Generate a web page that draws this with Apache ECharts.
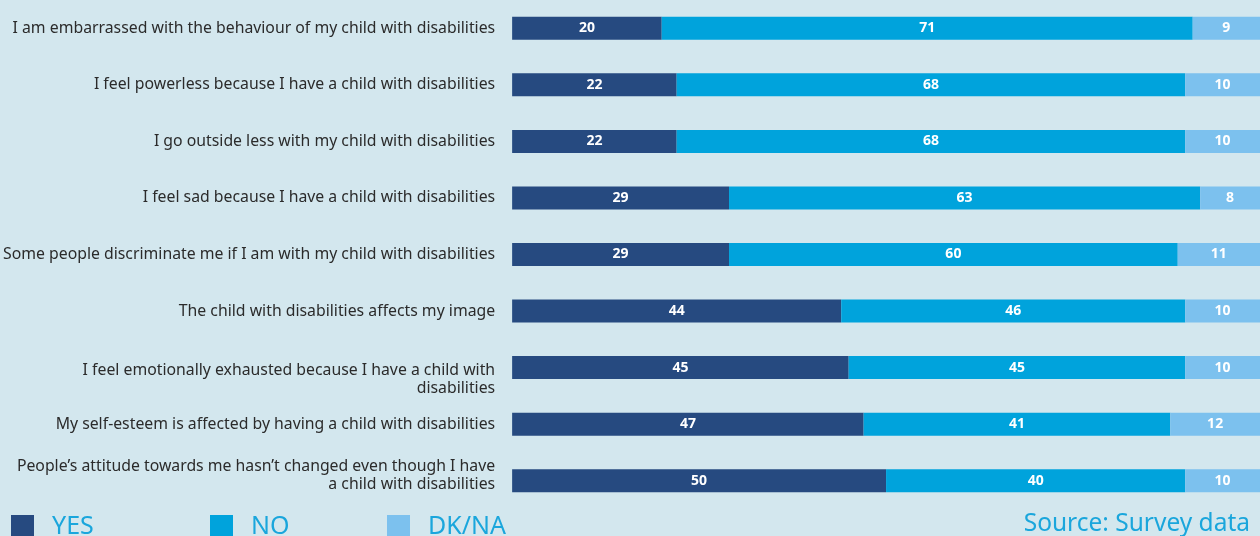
<!DOCTYPE html>
<html><head><meta charset="utf-8">
<script src="https://cdn.jsdelivr.net/npm/echarts@6/dist/echarts.min.js"></script>
<style>html,body{margin:0;padding:0;background:#d3e7ee}#c{width:1260px;height:536px}</style>
</head><body><div id="c"></div>
<script>
const categories = [
  "I am embarrassed with the behaviour of my child with disabilities",
  "I feel powerless because I have a child with disabilities",
  "I go outside less with my child with disabilities",
  "I feel sad because I have a child with disabilities",
  "Some people discriminate me if I am with my child with disabilities",
  "The child with disabilities affects my image",
  "I feel emotionally exhausted because I have a child with\ndisabilities",
  "My self-esteem is affected by having a child with disabilities",
  "People\u2019s attitude towards me hasn\u2019t changed even though I have\na child with disabilities"
];
const yes = [20, 22, 22, 29, 29, 44, 45, 47, 50];
const no = [71, 68, 68, 63, 60, 46, 45, 41, 40];
const dkna = [9, 10, 10, 8, 11, 10, 10, 12, 10];
const seriesNames = ["YES", "NO", "DK/NA"];
const colors = ["#264a80", "#00a3dc", "#7cc1ee"];
const sourceText = "Source: Survey data";

const FONT = "'Noto Sans', 'Open Sans', sans-serif";
const chart = echarts.init(document.getElementById('c'));
const mk = (name, data, color) => ({
  name, type: 'bar', stack: 'a', data, barWidth: 23,
  itemStyle: { color },
  label: { show: true, position: 'inside', color: '#fff', fontWeight: 'bold', fontSize: 14, fontFamily: FONT },
  emphasis: { disabled: true }
});
const legendPos = [11, 210, 387];
chart.setOption({
  backgroundColor: '#d3e7ee',
  animation: false,
  grid: { left: 512, right: 0, top: -2, height: 511 },
  xAxis: { type: 'value', min: 0, max: 100, show: false },
  yAxis: {
    type: 'category', inverse: true, data: categories,
    axisLine: { show: false }, axisTick: { show: false },
    axisLabel: {
      margin: 17, fontSize: 15.8, color: '#2b2b2b', fontFamily: FONT, lineHeight: 18, align: 'right',
      formatter: (v, i) => i === 6 ? '{s| }\n' + v : (i === 8 ? v + '\n{t| }' : v),
      rich: { s: { lineHeight: 24, fontSize: 4 }, t: { lineHeight: 10, fontSize: 4 } }
    }
  },
  legend: seriesNames.map((n, i) => ({
    data: [n], left: legendPos[i], top: 514, padding: 0, icon: 'rect', itemWidth: 23, itemHeight: 23,
    selectedMode: false,
    textStyle: { fontSize: 25, color: '#1aa6dc', fontFamily: FONT, padding: [0, 0, 0, 13] }
  })),
  graphic: [{
    type: 'text', right: 10, top: 512,
    style: { text: sourceText, fontSize: 24.5, fill: '#1aa6dc', fontFamily: FONT }
  }],
  series: [mk(seriesNames[0], yes, colors[0]), mk(seriesNames[1], no, colors[1]), mk(seriesNames[2], dkna, colors[2])]
});
</script></body></html>
